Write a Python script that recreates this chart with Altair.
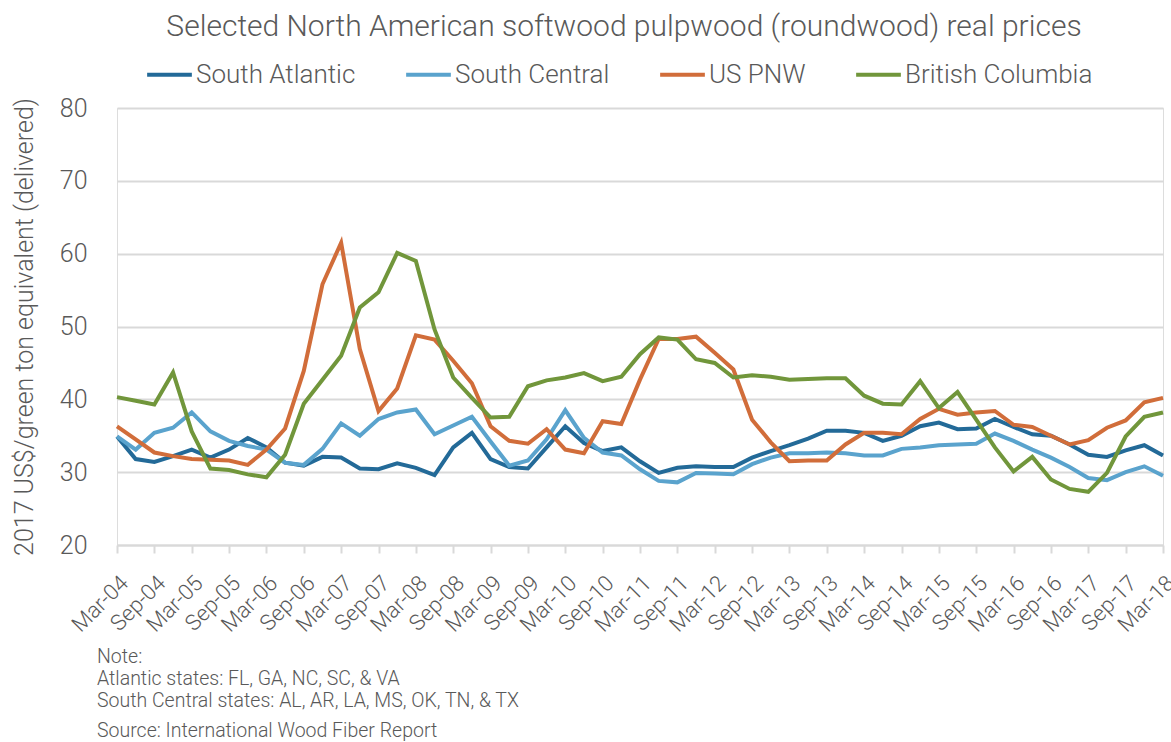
import altair as alt
import pandas as pd

quarters = []
for yr in range(4, 19):
    for m in ["Mar", "Jun", "Sep", "Dec"]:
        quarters.append(f"{m}-{yr:02d}")
quarters = quarters[:57]

south_atlantic = [34.9, 31.8, 31.4, 32.2, 33.1, 32.0, 33.1, 34.7, 33.4, 31.3,
                  30.9, 32.1, 32.0, 30.5, 30.4, 31.2, 30.6, 29.6, 33.4, 35.4,
                  31.8, 30.7, 30.5, 33.4, 36.3, 34.0, 32.9, 33.4, 31.5, 29.9,
                  30.6, 30.8, 30.7, 30.7, 32.0, 32.9, 33.7, 34.6, 35.7, 35.7,
                  35.4, 34.3, 35.0, 36.3, 36.8, 35.9, 36.0, 37.3, 36.2, 35.2,
                  35.0, 33.8, 32.4, 32.1, 33.0, 33.7, 32.3]
south_central = [34.9, 33.1, 35.4, 36.1, 38.2, 35.6, 34.3, 33.6, 33.1, 31.3,
                 31.0, 33.2, 36.7, 35.0, 37.3, 38.2, 38.6, 35.2, 36.4, 37.6,
                 34.2, 30.9, 31.6, 34.5, 38.5, 34.7, 32.7, 32.3, 30.4, 28.8,
                 28.6, 29.9, 29.8, 29.7, 31.1, 32.0, 32.6, 32.6, 32.7, 32.6,
                 32.3, 32.3, 33.2, 33.4, 33.7, 33.8, 33.9, 35.3, 34.3, 33.1,
                 32.0, 30.7, 29.2, 28.9, 30.0, 30.8, 29.5]
us_pnw = [36.3, 34.5, 32.7, 32.2, 31.8, 31.7, 31.6, 31.0, 33.1, 36.0,
          43.9, 55.8, 61.5, 46.9, 38.4, 41.5, 48.8, 48.2, 45.3, 42.2,
          36.3, 34.3, 33.9, 35.9, 33.1, 32.6, 37.0, 36.6, 42.7, 48.3,
          48.3, 48.6, 46.4, 44.1, 37.2, 34.1, 31.5, 31.6, 31.6, 33.8,
          35.4, 35.4, 35.2, 37.3, 38.7, 37.9, 38.2, 38.4, 36.5, 36.2,
          35.0, 33.8, 34.4, 36.1, 37.1, 39.6, 40.2]
british_columbia = [40.3, 39.8, 39.3, 43.7, 35.6, 30.5, 30.3, 29.7, 29.3, 32.4,
                    39.4, 42.7, 46.0, 52.6, 54.7, 60.1, 59.0, 49.6, 43.0, 40.2,
                    37.5, 37.6, 41.8, 42.6, 43.0, 43.6, 42.5, 43.1, 46.2, 48.5,
                    48.2, 45.5, 45.0, 43.0, 43.3, 43.1, 42.7, 42.8, 42.9, 42.9,
                    40.5, 39.4, 39.3, 42.5, 38.8, 41.0, 37.2, 33.4, 30.1, 32.1,
                    29.0, 27.7, 27.3, 29.9, 34.9, 37.6, 38.2]

series_names = ["South Atlantic", "South Central", "US PNW", "British Columbia"]
series_colors = ["#236a98", "#5aa3cd", "#d16d3a", "#71963b"]
y_ticks = [20, 30, 40, 50, 60, 70, 80]
note_lines = ["Note:",
              "Atlantic states: FL, GA, NC, SC, & VA",
              "South Central states: AL, AR, LA, MS, OK, TN, & TX"]
source_line = "Source: International Wood Fiber Report"
title_text = "Selected North American softwood pulpwood (roundwood) real prices"
y_title = "2017 US$/green ton equivalent (delivered)"

rows = []
for name, vals in zip(series_names, [south_atlantic, south_central, us_pnw, british_columbia]):
    for i, v in enumerate(vals):
        rows.append({"idx": i, "quarter": quarters[i], "series": name, "price": v})
df = pd.DataFrame(rows)

label_expr = "[" + ",".join(f"'{q}'" for q in quarters) + "][datum.value]"

FONT = "Roboto"
GREY = "#595959"
GRID = "#d9d9d9"

lines = alt.Chart(df).mark_line(strokeWidth=4).encode(
    x=alt.X("idx:Q",
            scale=alt.Scale(domain=[0, 56], nice=False, zero=False),
            axis=alt.Axis(values=list(range(0, 57, 2)), labelExpr=label_expr,
                          labelAngle=-45, labelAlign="right", labelBaseline="top",
                          labelOverlap=False, title=None, grid=False,
                          domainColor=GRID, domainWidth=2, tickColor=GRID, tickWidth=2,
                          tickSize=8, labelFontSize=22, labelColor=GREY,
                          labelFont=FONT, labelFontWeight=300, labelPadding=19)),
    y=alt.Y("price:Q",
            scale=alt.Scale(domain=[20, 80], nice=False, zero=False),
            axis=alt.Axis(values=y_ticks, title=y_title, domain=False, ticks=False,
                          gridColor=GRID, gridWidth=2, labelFontSize=25, labelColor=GREY,
                          labelFont=FONT, labelFontWeight=300, labelPadding=30,
                          titleFont=FONT, titleFontWeight=300, titleFontSize=25,
                          titleColor=GREY, titlePadding=22)),
    color=alt.Color("series:N",
                    scale=alt.Scale(domain=series_names, range=series_colors),
                    legend=alt.Legend(title=None, orient="none", direction="horizontal",
                                      legendX=28, legendY=-58,
                                      symbolType="stroke", symbolStrokeWidth=4,
                                      symbolSize=2000, labelFontSize=26,
                                      labelFont=FONT, labelFontWeight=300,
                                      labelColor=GREY, columnPadding=42,
                                      labelOffset=2, labelLimit=400)),
    order=alt.Order("idx:Q"),
)

notes_df = pd.DataFrame({"k": [0]})
notes = alt.Chart(notes_df).mark_text(
    text=note_lines, align="left", baseline="top", fontSize=19.5, font=FONT,
    fontWeight=300, color=GREY, lineHeight=22
).encode(x=alt.value(-20), y=alt.value(540))

source = alt.Chart(notes_df).mark_text(
    text=source_line, align="left", baseline="top", fontSize=19.5, font=FONT,
    fontWeight=300, color=GREY
).encode(x=alt.value(-20), y=alt.value(614))

chart = alt.layer(lines, notes, source).properties(
    width=1046, height=437,
    title=alt.TitleParams(title_text, fontSize=30, font=FONT, fontWeight=300,
                          color=GREY, anchor="middle", dx=-16, offset=8),
    autosize=alt.AutoSizeParams(type="none"),
    padding={"left": 117, "top": 108, "right": 8, "bottom": 197},
).configure_view(stroke=None).configure(background="white")

chart.save("out.html", embed_options={"renderer": "svg", "actions": False})
